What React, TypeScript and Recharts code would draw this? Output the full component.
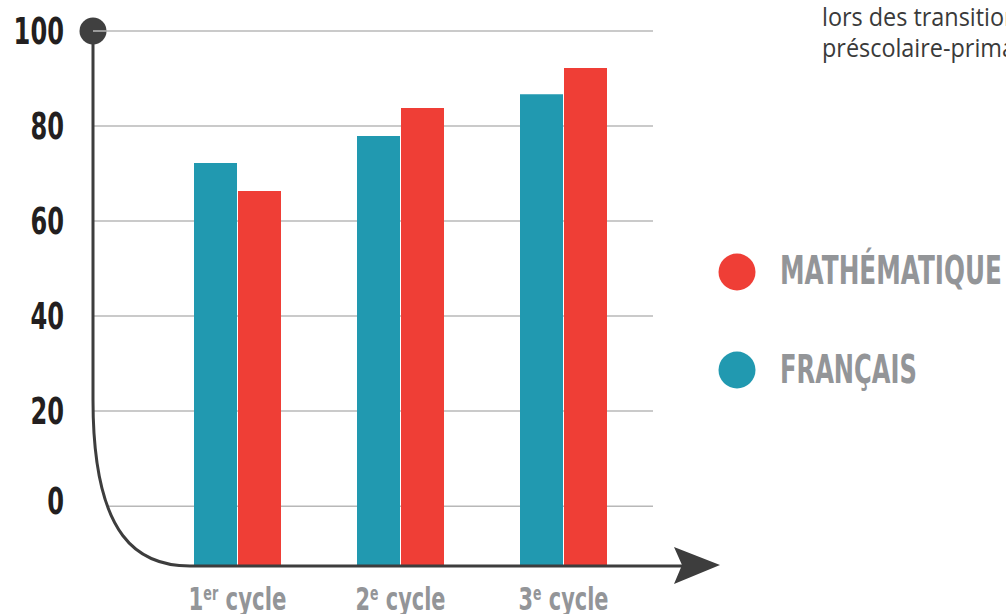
import React from 'react';
import { BarChart, Bar, XAxis, YAxis, CartesianGrid } from 'recharts';

// cycles on the x axis: number + ordinal suffix, then the word "cycle"
const cycleNumbers = ['1', '2', '3'];
const cycleSuffixes = ['er', 'e', 'e'];
const francaisValues = [72.2, 77.9, 86.7];
const mathValues = [66.3, 83.8, 92.2];
const yTicks = [0, 20, 40, 60, 80, 100];
const seriesNames = ['MATHÉMATIQUE', 'FRANÇAIS'];
const noteLines = ['lors des transitions', 'préscolaire-primaire'];

// bars run down below 0 to the curved base line
const Y_MIN = -12.6;

const W = 1006;
const H = 614;
const PLOT_LEFT = 93;
const PLOT_TOP = 31;
const PLOT_RIGHT = 653;
const AXIS_Y = 566;

const TEAL = '#2199b0';
const RED = '#ef3e36';
const AXIS_COLOR = '#3d3d3d';
const GREY_TEXT = '#939598';
const CONDENSED = '"DejaVu Sans", sans-serif';

const data = cycleNumbers.map((n, i) => ({
  cycle: n,
  francais: [Y_MIN, francaisValues[i]],
  math: [Y_MIN, mathValues[i]],
}));

function YTick({ y, payload }: any) {
  const label = String(payload.value);
  return (
    <text
      x={64}
      y={y}
      dy={payload.value === 0 ? 8 : 13}
      textAnchor="end"
      fill="#231f20"
      fontFamily={CONDENSED}
      fontWeight="bold"
      fontSize={37}
      textLength={label.length * 16.8}
      lengthAdjust="spacingAndGlyphs"
    >
      {label}
    </text>
  );
}

function XTick({ x, payload, index }: any) {
  const suffix = cycleSuffixes[index];
  return (
    <text
      x={x}
      y={AXIS_Y + 44}
      textAnchor="middle"
      fill={GREY_TEXT}
      fontFamily={CONDENSED}
      fontWeight="bold"
      fontSize={32}
      textLength={suffix.length > 1 ? 98 : 90}
      lengthAdjust="spacingAndGlyphs"
    >
      <tspan>{payload.value}</tspan>
      <tspan dy={-10} fontSize={19}>
        {suffix}
      </tspan>
      <tspan dy={10}>{' cycle'}</tspan>
    </text>
  );
}

function SeriesLegend() {
  const colors = [RED, TEAL];
  const widths = [222, 137];
  return (
    <svg
      width={306}
      height={170}
      style={{ position: 'absolute', left: 700, top: 230 }}
    >
      {seriesNames.map((name, i) => (
        <g key={name}>
          <circle cx={37} cy={42 + i * 98} r={18.5} fill={colors[i]} />
          <text
            x={80}
            y={54 + i * 99}
            fill={GREY_TEXT}
            fontFamily={CONDENSED}
            fontWeight="bold"
            fontSize={39}
            textLength={widths[i]}
            lengthAdjust="spacingAndGlyphs"
          >
            {name}
          </text>
        </g>
      ))}
    </svg>
  );
}

function AxisOverlay() {
  const curveTop = 400;
  const curveEnd = 190;
  const curve = `M${PLOT_LEFT},${curveTop} C${PLOT_LEFT},540 140,${AXIS_Y} ${curveEnd},${AXIS_Y}`;
  return (
    <svg
      width={W}
      height={H}
      style={{ position: 'absolute', left: 0, top: 0, pointerEvents: 'none' }}
    >
      {/* hide the gridline stubs left of the curve */}
      <path
        d={`${curve} L${curveEnd},${AXIS_Y + 4} L${PLOT_LEFT - 2},${AXIS_Y + 4} Z`}
        fill="#fff"
      />
      <path
        d={`M${PLOT_LEFT},${PLOT_TOP} V${curveTop} C${PLOT_LEFT},540 140,${AXIS_Y} ${curveEnd},${AXIS_Y} H682`}
        fill="none"
        stroke={AXIS_COLOR}
        strokeWidth={3}
      />
      <polygon points="674,547 720,565 674,584 682,565" fill={AXIS_COLOR} />
      <circle cx={PLOT_LEFT} cy={PLOT_TOP} r={13.5} fill="#404040" />
      <line
        x1={PLOT_LEFT}
        y1={PLOT_TOP}
        x2={PLOT_LEFT + 14}
        y2={PLOT_TOP}
        stroke="#b8b8b8"
        strokeWidth={1.5}
      />
    </svg>
  );
}

export default function App() {
  return (
    <div
      style={{
        position: 'absolute',
        left: 0,
        top: 0,
        width: W,
        height: H,
        overflow: 'hidden',
        background: '#fff',
      }}
    >
      <BarChart
        width={W}
        height={H}
        data={data}
        margin={{ top: PLOT_TOP, right: W - PLOT_RIGHT, bottom: 0, left: 0 }}
        barSize={43}
        barGap={1}
      >
        <CartesianGrid vertical={false} stroke="#b8b8b8" strokeWidth={1.5} />
        <XAxis
          dataKey="cycle"
          axisLine={false}
          tickLine={false}
          height={H - AXIS_Y}
          padding={{ left: 63, right: 8 }}
          tick={<XTick />}
          interval={0}
        />
        <YAxis
          type="number"
          domain={[Y_MIN, 100]}
          ticks={yTicks}
          width={PLOT_LEFT}
          axisLine={false}
          tickLine={false}
          tick={<YTick />}
          allowDataOverflow
        />
        <Bar dataKey="francais" fill={TEAL} isAnimationActive={false} />
        <Bar dataKey="math" fill={RED} isAnimationActive={false} />
      </BarChart>
      <AxisOverlay />
      <SeriesLegend />
      <div
        style={{
          position: 'absolute',
          left: 822,
          top: 1,
          whiteSpace: 'nowrap',
          fontFamily: '"Open Sans", sans-serif',
          fontSize: 26,
          lineHeight: '31px',
          color: '#3a3a3a',
          transform: 'scaleX(0.9)',
          transformOrigin: 'left top',
        }}
      >
        {noteLines.map((l) => (
          <div key={l}>{l}</div>
        ))}
      </div>
    </div>
  );
}
